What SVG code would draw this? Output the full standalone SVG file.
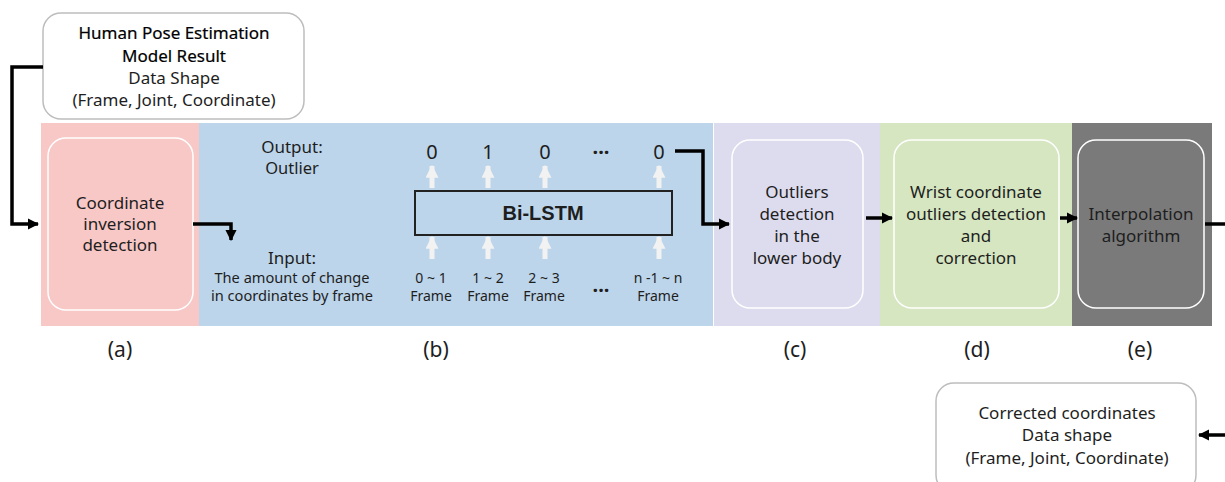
<svg xmlns="http://www.w3.org/2000/svg" width="1225" height="482" viewBox="0 0 1225 482">
<style>
text{font-family:"Noto Sans","DejaVu Sans",sans-serif;fill:#1e1e1e;text-anchor:middle}
.t{font-size:17px}
.h{fill:#000;stroke:#000;stroke-width:0.2}
.s{font-size:14px}
.m{font-size:14.6px}
.lab{font-size:21px}
.num{font-size:20px}
.io{font-size:17px}
.inner{fill:none;stroke:#ffffff;stroke-width:1.5}
.box{fill:#fff;stroke:#bdbdbd;stroke-width:1.5}
.con{fill:none;stroke:#000;stroke-width:3.5}
.la{stroke:#f2f2f2;stroke-width:5}
</style>
<defs>
<marker id="ah" viewBox="0 0 10 10" refX="9" refY="5" markerWidth="3.2" markerHeight="3.2" orient="auto" markerUnits="strokeWidth"><path d="M0,0 L10,5 L0,10 z" fill="#000"/></marker>
<marker id="lh" viewBox="0 0 10 10" refX="9" refY="5" markerWidth="2.6" markerHeight="2.6" orient="auto" markerUnits="strokeWidth"><path d="M0,0 L10,5 L0,10 z" fill="#f2f2f2"/></marker>
</defs>
<g id="bands">
<rect x="41" y="123" width="158" height="203" fill="#f8c8c7"/>
<rect x="199" y="123" width="514" height="203" fill="#bcd5ea"/>
<rect x="714" y="123" width="166" height="203" fill="#dddcee"/>
<rect x="880" y="123" width="192" height="203" fill="#d5e6c1"/>
<rect x="1072" y="123" width="140" height="203" fill="#7a7a7a"/>
</g>
<g id="input">
<rect class="box" x="43" y="13" width="261" height="106" rx="18"/>
<text class="t h" x="174" y="39">Human Pose Estimation</text>
<text class="t h" x="174" y="62">Model Result</text>
<text class="t" x="174" y="84">Data Shape</text>
<text class="t" x="174" y="106">(Frame, Joint, Coordinate)</text>
</g>
<g id="node-a">
<rect class="inner" x="48" y="138" width="145" height="172" rx="18"/>
<text class="t" x="120" y="209">Coordinate</text>
<text class="t" x="120" y="230">inversion</text>
<text class="t" x="120" y="251">detection</text>
<text class="lab" x="120" y="357">(a)</text>
</g>
<g id="node-b">
<text class="io" x="292" y="153">Output:</text>
<text x="292" y="174" style="font-size:16.5px">Outlier</text>
<text class="io" x="292" y="264">Input:</text>
<text class="m" x="292" y="283">The amount of change</text>
<text class="m" x="292" y="301">in coordinates by frame</text>
<text class="num" x="432" y="159">0</text>
<text class="num" x="488" y="159">1</text>
<text class="num" x="545" y="159">0</text>
<text class="num" x="601" y="159" style="font-weight:bold">···</text>
<text class="num" x="659" y="159">0</text>
<line class="la" x1="432" y1="188" x2="432" y2="166" marker-end="url(#lh)"/>
<line class="la" x1="488" y1="188" x2="488" y2="166" marker-end="url(#lh)"/>
<line class="la" x1="545" y1="188" x2="545" y2="166" marker-end="url(#lh)"/>
<line class="la" x1="659" y1="188" x2="659" y2="166" marker-end="url(#lh)"/>
<rect x="415" y="191" width="257" height="44" fill="none" stroke="#222" stroke-width="2"/>
<text x="543" y="220" style="font-family:'Liberation Sans',Arial,sans-serif;font-weight:bold;font-size:20px">Bi-LSTM</text>
<line class="la" x1="432" y1="259" x2="432" y2="237" marker-end="url(#lh)"/>
<line class="la" x1="488" y1="259" x2="488" y2="237" marker-end="url(#lh)"/>
<line class="la" x1="545" y1="259" x2="545" y2="237" marker-end="url(#lh)"/>
<line class="la" x1="659" y1="259" x2="659" y2="237" marker-end="url(#lh)"/>
<text class="s" x="431" y="283">0 ~ 1</text>
<text class="s" x="431" y="301">Frame</text>
<text class="s" x="488" y="283">1 ~ 2</text>
<text class="s" x="488" y="301">Frame</text>
<text class="s" x="544" y="283">2 ~ 3</text>
<text class="s" x="544" y="301">Frame</text>
<text class="num" x="601" y="297" style="font-weight:bold">···</text>
<text class="s" x="658" y="283">n -1 ~ n</text>
<text class="s" x="658" y="301">Frame</text>
<text class="lab" x="436" y="357">(b)</text>
</g>
<g id="node-c">
<rect class="inner" x="732" y="140" width="131" height="168" rx="18"/>
<text class="t" x="797" y="198">Outliers</text>
<text class="t" x="797" y="220">detection</text>
<text class="t" x="797" y="242">in the</text>
<text class="t" x="797" y="264">lower body</text>
<text class="lab" x="795" y="357">(c)</text>
</g>
<g id="node-d">
<rect class="inner" x="894" y="140" width="165" height="168" rx="18"/>
<text class="t" x="976" y="198">Wrist coordinate</text>
<text class="t" x="976" y="220">outliers detection</text>
<text class="t" x="976" y="242">and</text>
<text class="t" x="976" y="264">correction</text>
<text class="lab" x="977" y="357">(d)</text>
</g>
<g id="node-e">
<rect class="inner" x="1078" y="140" width="126" height="168" rx="18"/>
<text class="t" x="1141" y="220">Interpolation</text>
<text class="t" x="1141" y="242">algorithm</text>
<text class="lab" x="1140" y="357">(e)</text>
</g>
<g id="output">
<rect class="box" x="936" y="383" width="260" height="110" rx="18"/>
<text class="t" x="1067" y="419">Corrected coordinates</text>
<text class="t" x="1067" y="441">Data shape</text>
<text class="t" x="1067" y="464">(Frame, Joint, Coordinate)</text>
</g>
<g id="connectors">
<polyline class="con" points="43,67 12,67 12,224 38,224" marker-end="url(#ah)"/>
<polyline class="con" points="193,224 231,224 231,240" marker-end="url(#ah)"/>
<polyline class="con" points="675,151 703,151 703,224 729,224" marker-end="url(#ah)"/>
<line class="con" x1="866" y1="218" x2="892" y2="218" stroke-width="3" marker-end="url(#ah)"/>
<line class="con" x1="1060" y1="218" x2="1077" y2="218" stroke-width="3" marker-end="url(#ah)"/>
<line class="con" x1="1205" y1="224" x2="1225" y2="224"/>
<line class="con" x1="1225" y1="435" x2="1199" y2="435" marker-end="url(#ah)"/>
</g>
</svg>
